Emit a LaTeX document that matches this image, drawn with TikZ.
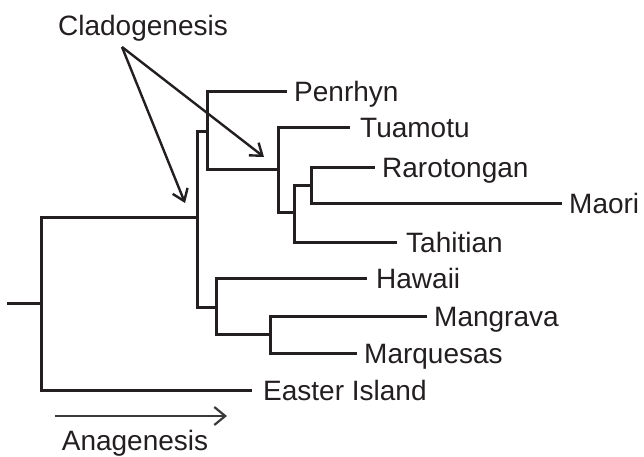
\documentclass[tikz,border=0pt]{standalone}
\usepackage{fontspec}
\setmainfont{Liberation Sans}
\usetikzlibrary{arrows.meta}
\definecolor{ink}{HTML}{231F20}
\definecolor{arrowgray}{HTML}{3A3A3A}
\begin{document}
\begin{tikzpicture}[x=1pt,y=-1pt,
  branch/.style={draw=ink,line width=3pt,line cap=rect,line join=miter},
  leaf/.style={anchor=west,inner ysep=0pt,inner xsep=#1,text height=20pt,text depth=0pt,
    font=\fontsize{28}{32}\selectfont,text=ink},
  leaf/.default=9pt,
  lbl/.style={inner sep=0pt,text height=20pt,text depth=0pt,font=\fontsize{28}{32}\selectfont,text=ink},
  clarrow/.style={draw=ink,line width=2.4pt,-{Straight Barb[length=11pt,width=16pt,line width=2.4pt]}},
  anarrow/.style={draw=arrowgray,line width=2.2pt,-{Straight Barb[length=11pt,width=18pt,line width=2.2pt]}}
]
\useasboundingbox (0,0) rectangle (644,456);

% internal nodes
\coordinate (r)  at (8,303);
\coordinate (n0) at (41,303);
\coordinate (n1) at (197,217);
\coordinate (n2) at (207,131);
\coordinate (n3) at (278,169);
\coordinate (n4) at (294,212);
\coordinate (n6) at (311,185);
\coordinate (n5) at (216,307);
\coordinate (n7) at (270,334);

% leaves
\node[leaf]      (pen) at (285,91)  {Penrhyn};
\node[leaf=12pt] (tua) at (348,127) {Tuamotu};
\node[leaf]      (rar) at (373,167) {Rarotongan};
\node[leaf]      (mao) at (560,203) {Maori};
\node[leaf=11pt] (tah) at (395,242) {Tahitian};
\node[leaf=11pt] (haw) at (365,278) {Hawaii};
\node[leaf]      (man) at (425,316) {Mangrava};
\node[leaf]      (mar) at (355,353) {Marquesas};
\node[leaf=13pt] (eas) at (250,390) {Easter Island};

% tree
\draw[branch] (r) -- (n0);
\draw[branch] (n0) |- (n1);
\draw[branch] (n0) |- (eas.west);
\draw[branch] (n1) |- (n2);
\draw[branch] (n1) |- (n5);
\draw[branch] (n2) |- (pen.west);
\draw[branch] (n2) |- (n3);
\draw[branch] (n3) |- (tua.west);
\draw[branch] (n3) |- (n4);
\draw[branch] (n4) |- (n6);
\draw[branch] (n4) |- (tah.west);
\draw[branch] (n6) |- (rar.west);
\draw[branch] (n6) |- (mao.west);
\draw[branch] (n5) |- (haw.west);
\draw[branch] (n5) |- (n7);
\draw[branch] (n7) |- (man.west);
\draw[branch] (n7) |- (mar.west);

% cladogenesis
\node[lbl] (clado) at (143,25) {Cladogenesis};
\coordinate (cs) at (122,47);
\coordinate (ca) at (185,203);
\coordinate (cb) at (264,157);
\draw[clarrow] (cs) -- (ca);
\draw[clarrow] (cs) -- (cb);

% anagenesis
\coordinate (as) at (55,416);
\coordinate (ae) at (227,416);
\draw[anarrow] (as) -- (ae);
\node[lbl] (ana) at (135,440) {Anagenesis};
\end{tikzpicture}
\end{document}
